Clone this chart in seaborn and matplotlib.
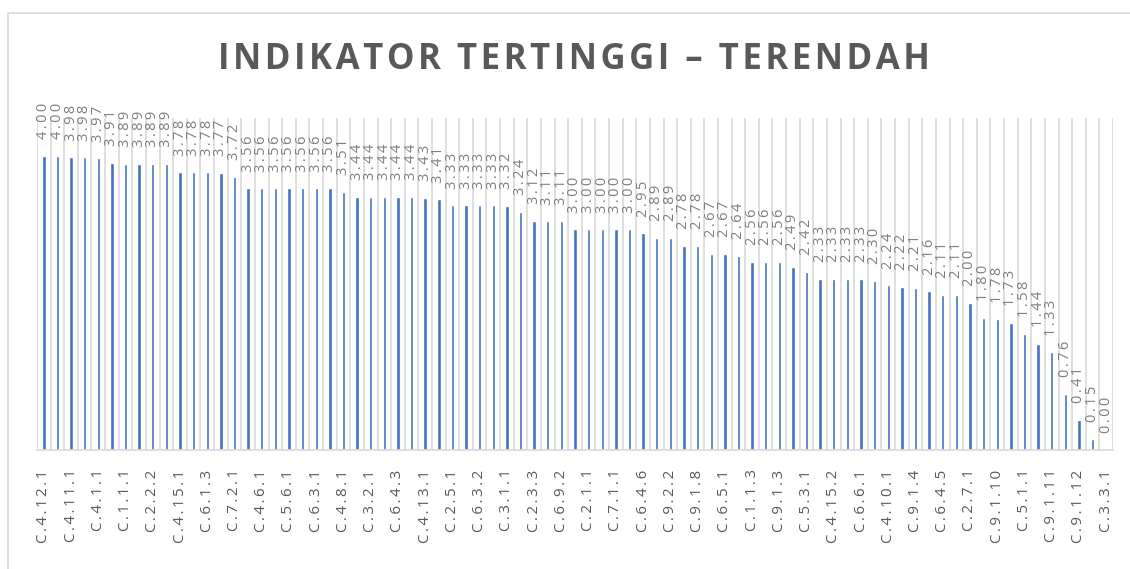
import numpy as np
import pandas as pd
import matplotlib.pyplot as plt
import seaborn as sns

# nilai per indikator, urut dari tertinggi ke terendah
nilai = [4.00, 4.00, 3.98, 3.98, 3.97, 3.91, 3.89, 3.89, 3.89, 3.89,
         3.78, 3.78, 3.78, 3.77, 3.72, 3.56, 3.56, 3.56, 3.56, 3.56,
         3.56, 3.56, 3.51, 3.44, 3.44, 3.44, 3.44, 3.44, 3.43, 3.41,
         3.33, 3.33, 3.33, 3.33, 3.32, 3.24, 3.12, 3.11, 3.11, 3.00,
         3.00, 3.00, 3.00, 3.00, 2.95, 2.89, 2.89, 2.78, 2.78, 2.67,
         2.67, 2.64, 2.56, 2.56, 2.56, 2.49, 2.42, 2.33, 2.33, 2.33,
         2.33, 2.30, 2.24, 2.22, 2.21, 2.16, 2.11, 2.11, 2.00, 1.80,
         1.78, 1.73, 1.58, 1.44, 1.33, 0.76, 0.41, 0.15, 0.00]

# hanya label yang tampil (setiap indikator kedua)
label_tampil = ["C.4.12.1", "C.4.11.1", "C.4.1.1", "C.1.1.1", "C.2.2.2",
                "C.4.15.1", "C.6.1.3", "C.7.2.1", "C.4.6.1", "C.5.6.1",
                "C.6.3.1", "C.4.8.1", "C.3.2.1", "C.6.4.3", "C.4.13.1",
                "C.2.5.1", "C.6.3.2", "C.3.1.1", "C.2.3.3", "C.6.9.2",
                "C.2.1.1", "C.7.1.1", "C.6.4.6", "C.9.2.2", "C.9.1.8",
                "C.6.5.1", "C.1.1.3", "C.9.1.3", "C.5.3.1", "C.4.15.2",
                "C.6.6.1", "C.4.10.1", "C.9.1.4", "C.6.4.5", "C.2.7.1",
                "C.9.1.10", "C.5.1.1", "C.9.1.11", "C.9.1.12", "C.3.3.1"]

n = len(nilai)
df = pd.DataFrame({'pos': range(n), 'nilai': nilai})

sns.set_theme(style="white")
plt.rcParams['font.family'] = ['Open Sans', 'DejaVu Sans']

W, H = 1130, 569
fig = plt.figure(figsize=(W / 100, H / 100), dpi=100)
ax = fig.add_axes([37 / W, (H - 450) / H, 1076 / W, 332 / H])

sns.barplot(data=df, x='pos', y='nilai', color='#4472C4', saturation=1,
            width=0.25, errorbar=None, ax=ax)

ax.set_xlim(-0.5, n - 0.5)
ax.set_ylim(0, 4.517)

# garis grid vertikal di batas kategori
ax.set_xticks(np.arange(-0.5, n, 1), minor=True)
ax.grid(which='minor', axis='x', color='#D9D9D9', linewidth=1.2)
ax.set_axisbelow(True)
ax.tick_params(which='both', length=0)

ax.set_xticks(range(0, n, 2))
ax.set_xticklabels(['\u2009'.join(t) for t in label_tampil], rotation=90,
                   fontsize=10.8, color='#595959')
ax.tick_params(axis='x', which='major', pad=14)
ax.set_yticks([])
ax.set_xlabel('')
ax.set_ylabel('')

for s in ['left', 'right', 'top']:
    ax.spines[s].set_visible(False)
ax.spines['bottom'].set_color('#D9D9D9')
ax.spines['bottom'].set_linewidth(1.2)

ax.bar_label(ax.containers[0],
             labels=['\u2009'.join(f'{v:.2f}') for v in nilai],
             padding=12, rotation=90, fontsize=10.5, color='#7F7F7F')

judul = 'INDIKATOR TERTINGGI – TERENDAH'
fig.text(574 / W, 1 - 60 / H, '\u200a'.join(judul),
         ha='center', va='center', fontsize=25, fontweight='bold',
         color='#595959')

# bingkai chart
fig.add_artist(plt.Line2D([7.5 / W, 7.5 / W], [0, 1 - 13 / H],
                          transform=fig.transFigure, color='#D9D9D9', lw=1.2))
fig.add_artist(plt.Line2D([7.5 / W, 1], [1 - 13 / H, 1 - 13 / H],
                          transform=fig.transFigure, color='#D9D9D9', lw=1.2))

fig.savefig('out.png', dpi=100)
